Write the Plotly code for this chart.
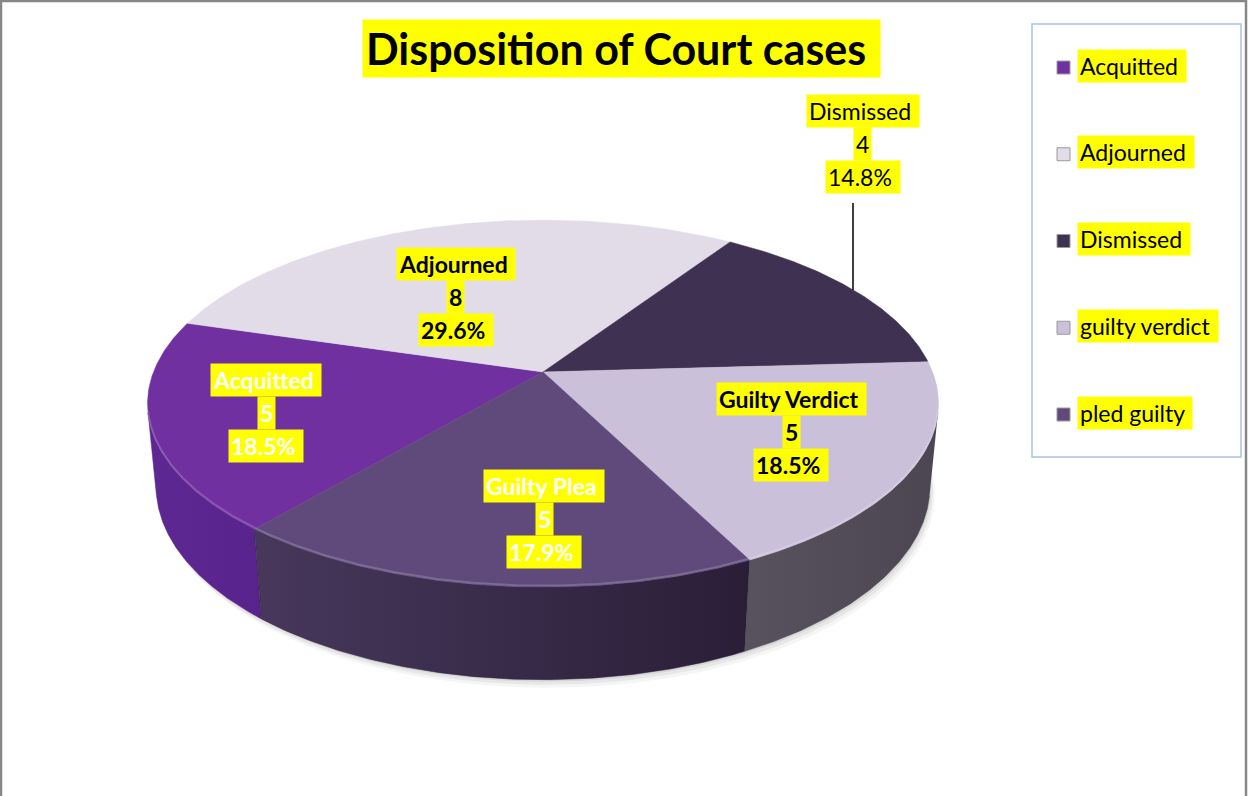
import numpy as np
import plotly.graph_objects as go

# ---------------- data ----------------
categories = ["Acquitted", "Adjourned", "Dismissed", "Guilty Verdict", "Guilty Plea"]
counts = [5, 8, 4, 5, 5]
pct_labels = ["18.5%", "29.6%", "14.8%", "18.5%", "17.9%"]
legend_labels = ["Acquitted", "Adjourned", "Dismissed", "guilty verdict", "pled guilty"]
title_text = "Disposition of Court cases"

# ---------------- styles ----------------
top_colors = ["#7030A0", "#E1DCE8", "#3F3151", "#CBC0DA", "#604A7B"]
side_left = ["#5E2893", "#B9B3C2", "#2E2340", "#58525F", "#47385C"]
side_right = ["#58238C", "#A8A2B2", "#241A33", "#4B4652", "#2A1E37"]
label_font_color = ["white", "black", "black", "black", "white"]
label_bold = [True, True, False, True, True]
label_center = [(266, 379.5), (455.5, 264), (862.5, 110.5), (791, 399), (544, 485.5)]
LINE_STEP = 33

W, H = 1249, 796
FONT = "Lato"

# 3-D projection settings for the pie
PHI = np.radians(27.2)
DIST = 5.16
SCALE = 2010.0
CX, CY = 543.0, 372.0
DEPTH = 0.24
START = 220.0


def project(x, y, z):
    xc = x
    yc = y * np.cos(PHI) - z * np.sin(PHI)
    d = DIST - y * np.sin(PHI) - z * np.cos(PHI)
    return CX + SCALE * xc / d, CY - SCALE * yc / d


def rim(alpha_deg, y):
    a = np.radians(alpha_deg)
    return project(np.sin(a), y, -np.cos(a))


fig = go.Figure()

total = float(sum(counts))
bounds = [START]
for c in counts:
    bounds.append(bounds[-1] + 360.0 * c / total)

# shadow under the pie
for k, op in [(8, 0.06), (5, 0.08), (2, 0.10)]:
    al = np.linspace(90, 270, 200)
    xs, ys = rim(al, -DEPTH)
    xs0, ys0 = rim(al[::-1], 0)
    fig.add_trace(go.Scatter(
        x=np.concatenate([xs + k * 0.6, xs0]), y=np.concatenate([ys + k, ys0]),
        fill="toself", mode="lines", line=dict(width=0),
        fillcolor=f"rgba(80,80,80,{op})", hoverinfo="skip", showlegend=False))

# visible part of the side wall
vis = np.degrees(np.arccos(-1.0 / (DIST * np.cos(PHI))))
vis_lo, vis_hi = vis, 360 - vis
for i in range(len(counts)):
    a0, a1 = bounds[i], bounds[i + 1]
    for shift in (-360, 0, 360):
        lo = max(a0 + shift, vis_lo)
        hi = min(a1 + shift, vis_hi)
        if hi > lo:
            al = np.linspace(lo, hi, 120)
            xt, yt = rim(al, 0)
            xb, yb = rim(al[::-1], -DEPTH)
            fig.add_trace(go.Scatter(
                x=np.concatenate([xt, xb]), y=np.concatenate([yt, yb]),
                fill="toself", mode="lines", line=dict(width=0.5, color=side_right[i]),
                fillgradient=dict(type="horizontal",
                                  colorscale=[[0, side_left[i]], [1, side_right[i]]]),
                hoverinfo="skip", showlegend=False))

# top faces
for i in range(len(counts)):
    a0, a1 = bounds[i], bounds[i + 1]
    al = np.linspace(a0, a1, 150)
    xs, ys = rim(al, 0)
    fig.add_trace(go.Scatter(
        x=np.concatenate([[CX], xs, [CX]]), y=np.concatenate([[CY], ys, [CY]]),
        fill="toself", mode="lines", line=dict(width=0.5, color=top_colors[i]),
        fillcolor=top_colors[i], hoverinfo="skip", showlegend=False,
        name=categories[i]))

# light bevel along the front top edge
for i in range(len(counts)):
    a0, a1 = bounds[i], bounds[i + 1]
    for shift in (-360, 0, 360):
        lo = max(a0 + shift, vis_lo)
        hi = min(a1 + shift, vis_hi)
        if hi > lo:
            al = np.linspace(lo, hi, 120)
            xt, yt = rim(al, 0)
            fig.add_trace(go.Scatter(
                x=xt, y=yt - 1.5, mode="lines",
                line=dict(width=2, color="rgba(255,255,255,0.18)"),
                hoverinfo="skip", showlegend=False))

annotations = []
shapes = []

# data labels (each line individually highlighted)
for i in range(len(counts)):
    cx, cy = label_center[i]
    lines = [categories[i] + "\u00a0", str(counts[i]), pct_labels[i] + "\u00a0"]
    for j, t in enumerate(lines):
        txt = f"<b>{t}</b>" if label_bold[i] else t
        annotations.append(dict(
            x=cx, y=cy + j * LINE_STEP, xref="x", yref="y", text=txt,
            showarrow=False, bgcolor="#FFFF00", borderpad=2,
            font=dict(family=FONT, size=23, color=label_font_color[i]),
            xanchor="center", yanchor="middle"))

# leader line for the "Dismissed" label
shapes.append(dict(type="line", xref="x", yref="y", x0=853, x1=853, y0=203, y1=290,
                   line=dict(color="black", width=1.5)))

# title
annotations.append(dict(
    x=621.5, y=48, xref="x", yref="y", text=f"<b>{title_text}\u00a0</b>",
    showarrow=False, bgcolor="#FFFF00", borderpad=3,
    font=dict(family=FONT, size=43, color="black"),
    xanchor="center", yanchor="middle"))

# legend (manual, with highlighted labels)
legend_y0, legend_step = 65.5, 86.75
shapes.append(dict(type="rect", xref="x", yref="y", x0=1032, x1=1241, y0=24, y1=457,
                   line=dict(color="#A9C1E6", width=1.5), fillcolor="white", layer="below"))
leg_y = [legend_y0 + k * legend_step for k in range(len(legend_labels))]
fig.add_trace(go.Scatter(
    x=[1063.5] * len(legend_labels), y=[y + 2 for y in leg_y], mode="markers",
    marker=dict(symbol="square", size=13, color=top_colors,
                line=dict(width=1, color="#9A9A9A")),
    hoverinfo="skip", showlegend=False))
for k, lab in enumerate(legend_labels):
    annotations.append(dict(
        x=1077, y=leg_y[k], xref="x", yref="y", text=lab + "\u00a0",
        showarrow=False, bgcolor="#FFFF00", borderpad=2,
        font=dict(family=FONT, size=23, color="black"),
        xanchor="left", yanchor="middle"))

# chart frame
shapes.append(dict(type="rect", xref="paper", yref="paper", x0=0.0008, x1=0.9976,
                   y0=-0.01, y1=0.9987, line=dict(color="#878787", width=2.5)))

fig.update_layout(
    width=W, height=H, margin=dict(l=0, r=0, t=0, b=0),
    paper_bgcolor="white", plot_bgcolor="white",
    xaxis=dict(range=[0, W], visible=False, fixedrange=True),
    yaxis=dict(range=[H, 0], visible=False, fixedrange=True),
    annotations=annotations, shapes=shapes, showlegend=False,
)

fig.write_html("out.html", config={"displayModeBar": False},
               post_script="document.body.style.margin='0';document.body.style.overflow='hidden';")
